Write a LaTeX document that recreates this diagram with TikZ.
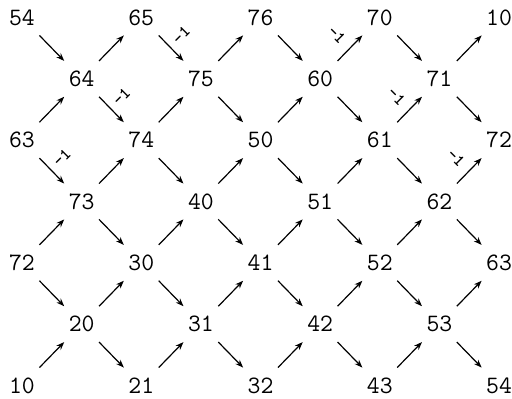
\documentclass[tikz,border=0pt]{standalone}
\usetikzlibrary{positioning,arrows.meta}

\begin{document}
\begin{tikzpicture}[font=\ttfamily\fontsize{25}{27}\selectfont, >={Stealth[length=8pt,width=6pt]},
      node distance=61.33pt and 59.63pt, on grid,
      v/.style={circle, minimum size=50pt, inner sep=0pt, outer sep=0pt},
      arr/.style={->, line width=1.2pt},
      uno/.style={font=\ttfamily\bfseries\fontsize{17}{17}\selectfont, inner sep=0pt}]
    \useasboundingbox (-22pt,17.5pt) rectangle (490pt,-381.5pt);
    % fila de arriba, en zigzag
    \node[v] (n54) at (0,0) {54};
    \node[v, below right=of n54] (n64) {64};
    \node[v, above right=of n64] (n65) {65};
    \node[v, below right=of n65] (n75) {75};
    \node[v, above right=of n75] (n76) {76};
    \node[v, below right=of n76] (n60) {60};
    \node[v, above right=of n60] (n70) {70};
    \node[v, below right=of n70] (n71) {71};
    \node[v, above right=of n71] (n10) {10};
    % resto de la malla
    \node[v, below left=of n64] (n63) {63};
    \node[v, below right=of n64] (n74) {74};
    \node[v, below right=of n75] (n50) {50};
    \node[v, below right=of n60] (n61) {61};
    \node[v, below right=of n71] (n72) {72};
    \node[v, below right=of n63] (n73) {73};
    \node[v, below right=of n74] (n40) {40};
    \node[v, below right=of n50] (n51) {51};
    \node[v, below right=of n61] (n62) {62};
    \node[v, below left=of n73] (n72b) {72};
    \node[v, below right=of n73] (n30) {30};
    \node[v, below right=of n40] (n41) {41};
    \node[v, below right=of n51] (n52) {52};
    \node[v, below right=of n62] (n63b) {63};
    \node[v, below right=of n72b] (n20) {20};
    \node[v, below right=of n30] (n31) {31};
    \node[v, below right=of n41] (n42) {42};
    \node[v, below right=of n52] (n53) {53};
    \node[v, below left=of n20] (n10b) {10};
    \node[v, below right=of n20] (n21) {21};
    \node[v, below right=of n31] (n32) {32};
    \node[v, below right=of n42] (n43) {43};
    \node[v, below right=of n53] (n54b) {54};
    % flechas sin etiqueta
    \foreach \a/\b in {n64/n65, n75/n76, n71/n10, n63/n64, n74/n75, n50/n60,
                       n73/n74, n40/n50, n51/n61, n72b/n73, n30/n40, n41/n51, n52/n62,
                       n20/n30, n31/n41, n42/n52, n53/n63b, n10b/n20, n21/n31, n32/n42, n43/n53,
                       n54/n64, n76/n60, n70/n71, n75/n50, n60/n61, n71/n72,
                       n74/n40, n50/n51, n61/n62, n73/n30, n40/n41, n51/n52, n62/n63b,
                       n72b/n20, n30/n31, n41/n42, n52/n53, n20/n21, n31/n32, n42/n43, n53/n54b}
      \draw[arr] (\a) -- (\b);
    % flechas con -1
    \draw[arr] (n65) -- node[uno, shift={(10pt,13pt)}, rotate=45] {-1} (n75);
    \draw[arr] (n64) -- node[uno, shift={(10pt,13pt)}, rotate=45] {-1} (n74);
    \draw[arr] (n63) -- node[uno, shift={(10pt,13pt)}, rotate=45] {-1} (n73);
    \draw[arr] (n60) -- node[uno, shift={(-13pt,13pt)}, rotate=-45] {-1} (n70);
    \draw[arr] (n61) -- node[uno, shift={(-13pt,13pt)}, rotate=-45] {-1} (n71);
    \draw[arr] (n62) -- node[uno, shift={(-13pt,13pt)}, rotate=-45] {-1} (n72);
  \end{tikzpicture}
\end{document}
